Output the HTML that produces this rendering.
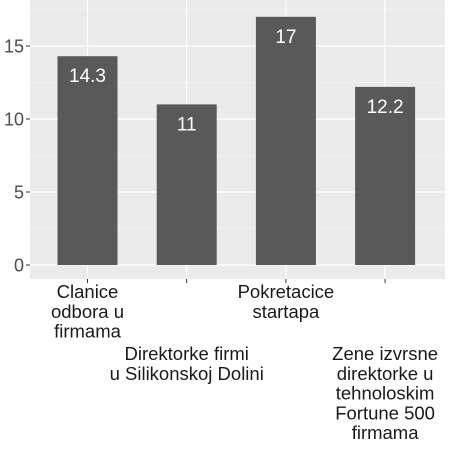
<!DOCTYPE html>
<html><head><meta charset="utf-8"><style>
html,body{margin:0;padding:0;background:#fff;}
svg text{font-family:"Liberation Sans",sans-serif;}
</style></head><body>
<svg id="chart" width="450" height="448" xmlns="http://www.w3.org/2000/svg">
<rect x="30" y="0" width="415" height="279" fill="#ebebeb"/>
<g id="grid"></g><g id="bars"></g><g id="axes"></g>
</svg>
<script>
const categories=[["Clanice","odbora u","firmama"],["Direktorke firmi","u Silikonskoj Dolini"],["Pokretacice","startapa"],["Zene izvrsne","direktorke u","tehnoloskim","Fortune 500","firmama"]];
const values=[14.3,11,17,12.2];
const valueLabels=["14.3","11","17","12.2"];
const yTicks=[0,5,10,15];
const labelRows=[0,1,0,1];
const NS="http://www.w3.org/2000/svg";
const y=v=>265-v*14.6;
const x=i=>87.5+i*99.2;
const bw=60;
function mk(t,a,p){const e=document.createElementNS(NS,t);for(const k in a)e.setAttribute(k,a[k]);p.appendChild(e);return e;}
const grid=document.getElementById('grid'),bars=document.getElementById('bars'),axes=document.getElementById('axes');
for(let v=2.5;v<19;v+=5){const l=mk('line',{x1:30,x2:445,y1:y(v),y2:y(v),stroke:'#f5f5f5','stroke-width':0.6},grid);

}
yTicks.forEach(t=>{const l=mk('line',{x1:30,x2:445,y1:y(t),y2:y(t),stroke:'#fff','stroke-width':1.2},grid);


const tk=mk('line',{x1:26,x2:30,y1:y(t),y2:y(t),stroke:'#333','stroke-width':1},axes);


const tx=mk('text',{x:24,y:y(t)+6.5,'text-anchor':'end','font-size':18,fill:'#4d4d4d'},axes);tx.textContent=t;

});
values.forEach((v,i)=>{const g=mk('line',{x1:x(i),x2:x(i),y1:0,y2:279,stroke:'#fff','stroke-width':1.2},grid);


const r=mk('rect',{x:x(i)-bw/2,y:y(v),width:bw,height:y(0)-y(v),fill:'#595959'},bars);


const t=mk('text',{x:x(i),y:y(v)+26,'text-anchor':'middle','font-size':19,fill:'#fff'},bars);t.textContent=valueLabels[i];


const tk=mk('line',{x1:x(i),x2:x(i),y1:279,y2:283,stroke:'#333','stroke-width':1},axes);


const base=labelRows[i]?360:298;
categories[i].forEach((ln,j)=>{const c=mk('text',{x:x(i),y:base+j*19.8,'text-anchor':'middle','font-size':18.5,fill:'#1a1a1a'},axes);c.textContent=ln;

});});
</script>
</body></html>
